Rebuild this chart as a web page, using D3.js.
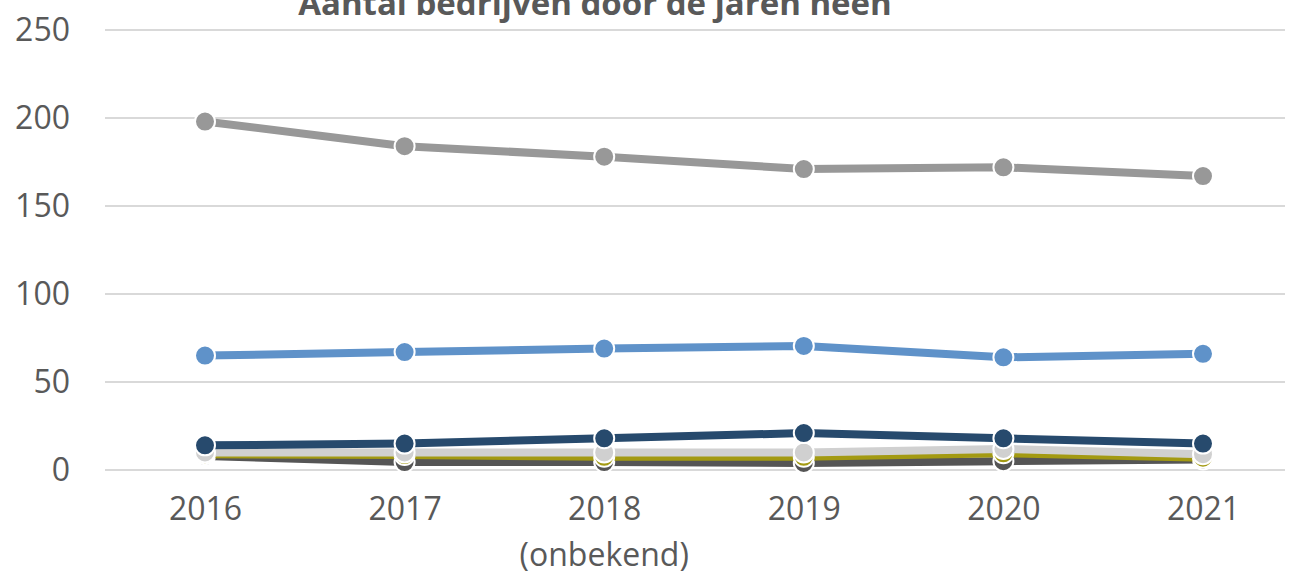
<!DOCTYPE html>
<html>
<head>
<meta charset="utf-8">
<script src="https://cdn.jsdelivr.net/npm/d3@7"></script>
<style>
  body { margin: 0; background: #fff; }
  text { font-family: "Open Sans", sans-serif; }
</style>
</head>
<body>
<div id="chart"></div>
<script>
// Data
const years = ["2016", "2017", "2018", "2019", "2020", "2021"];
const yTicks = [0, 50, 100, 150, 200, 250];
const seriesNames = ["donkergrijs", "olijf", "lichtgrijs", "grijs", "lichtblauw", "donkerblauw"];
const darkGray = [8, 4.5, 4.5, 4, 5, 6];
const olive = [9, 8.5, 7.5, 7.5, 9.5, 7];
const lightGray = [10, 10, 10, 10, 12, 9];
const gray = [198, 184, 178, 171, 172, 167];
const lightBlue = [65, 67, 69, 70.5, 64, 66];
const navy = [14, 15, 18, 21, 18, 15];
const colors = ["#555555", "#a39a12", "#d0d0d0", "#989898", "#5f92c9", "#274a6d"];

const seriesValues = [darkGray, olive, lightGray, gray, lightBlue, navy];

const width = 1293, height = 579;

var svg = d3.select("#chart")
    .append("svg")
    .attr("width", width)
    .attr("height", height);

// scales
var x = d3.scalePoint()
    .domain(years)
    .range([205, 1203]);

var y = d3.scaleLinear()
    .domain([0, 250])
    .range([470, 30]);

// gridlines
svg.append("g")
    .selectAll("line")
    .data(yTicks)
    .enter()
    .append("line")
    .attr("x1", 105)
    .attr("x2", 1285)
    .attr("y1", d => y(d))
    .attr("y2", d => y(d))
    .attr("stroke", "#d9d9d9")
    .attr("stroke-width", 2);

// Y axis labels
svg.append("g")
    .attr("transform", "translate(70,0)")
    .call(d3.axisLeft(y).tickValues(yTicks).tickSize(0).tickPadding(0))
    .call(g => g.select(".domain").remove())
    .selectAll("text")
    .attr("font-family", "Open Sans, sans-serif")
    .attr("font-size", 32)
    .attr("fill", "#595959");

// X axis labels
var xAxis = svg.append("g")
    .attr("transform", "translate(0,497)")
    .call(d3.axisBottom(x).tickSize(0).tickPadding(0));
xAxis.select(".domain").remove();
xAxis.selectAll("text")
    .attr("font-family", "Open Sans, sans-serif")
    .attr("font-size", 32)
    .attr("fill", "#595959");

svg.append("text")
    .attr("x", x("2018"))
    .attr("y", 566)
    .attr("text-anchor", "middle")
    .attr("font-size", 32)
    .attr("fill", "#595959")
    .text("(onbekend)");

// Title (cut off at the top, as in the original)
svg.append("text")
    .attr("x", 595)
    .attr("y", 15)
    .attr("text-anchor", "middle")
    .attr("font-size", 33)
    .attr("font-weight", "bold")
    .attr("fill", "#595959")
    .text("Aantal bedrijven door de jaren heen");

// lines and markers
var line = d3.line()
    .x((d, i) => x(years[i]))
    .y(d => y(d));

seriesValues.forEach((vals, k) => {
    var g = svg.append("g").attr("class", "series " + seriesNames[k]);
    g.append("path")
        .datum(vals)
        .attr("d", line)
        .attr("fill", "none")
        .attr("stroke", colors[k])
        .attr("stroke-width", 8)
        .attr("stroke-linejoin", "round");
    g.selectAll("circle")
        .data(vals)
        .enter()
        .append("circle")
        .attr("cx", (d, i) => x(years[i]))
        .attr("cy", d => y(d))
        .attr("r", 10)
        .attr("fill", colors[k])
        .attr("stroke", "#fff")
        .attr("stroke-width", 2);
});
</script>
</body>
</html>
